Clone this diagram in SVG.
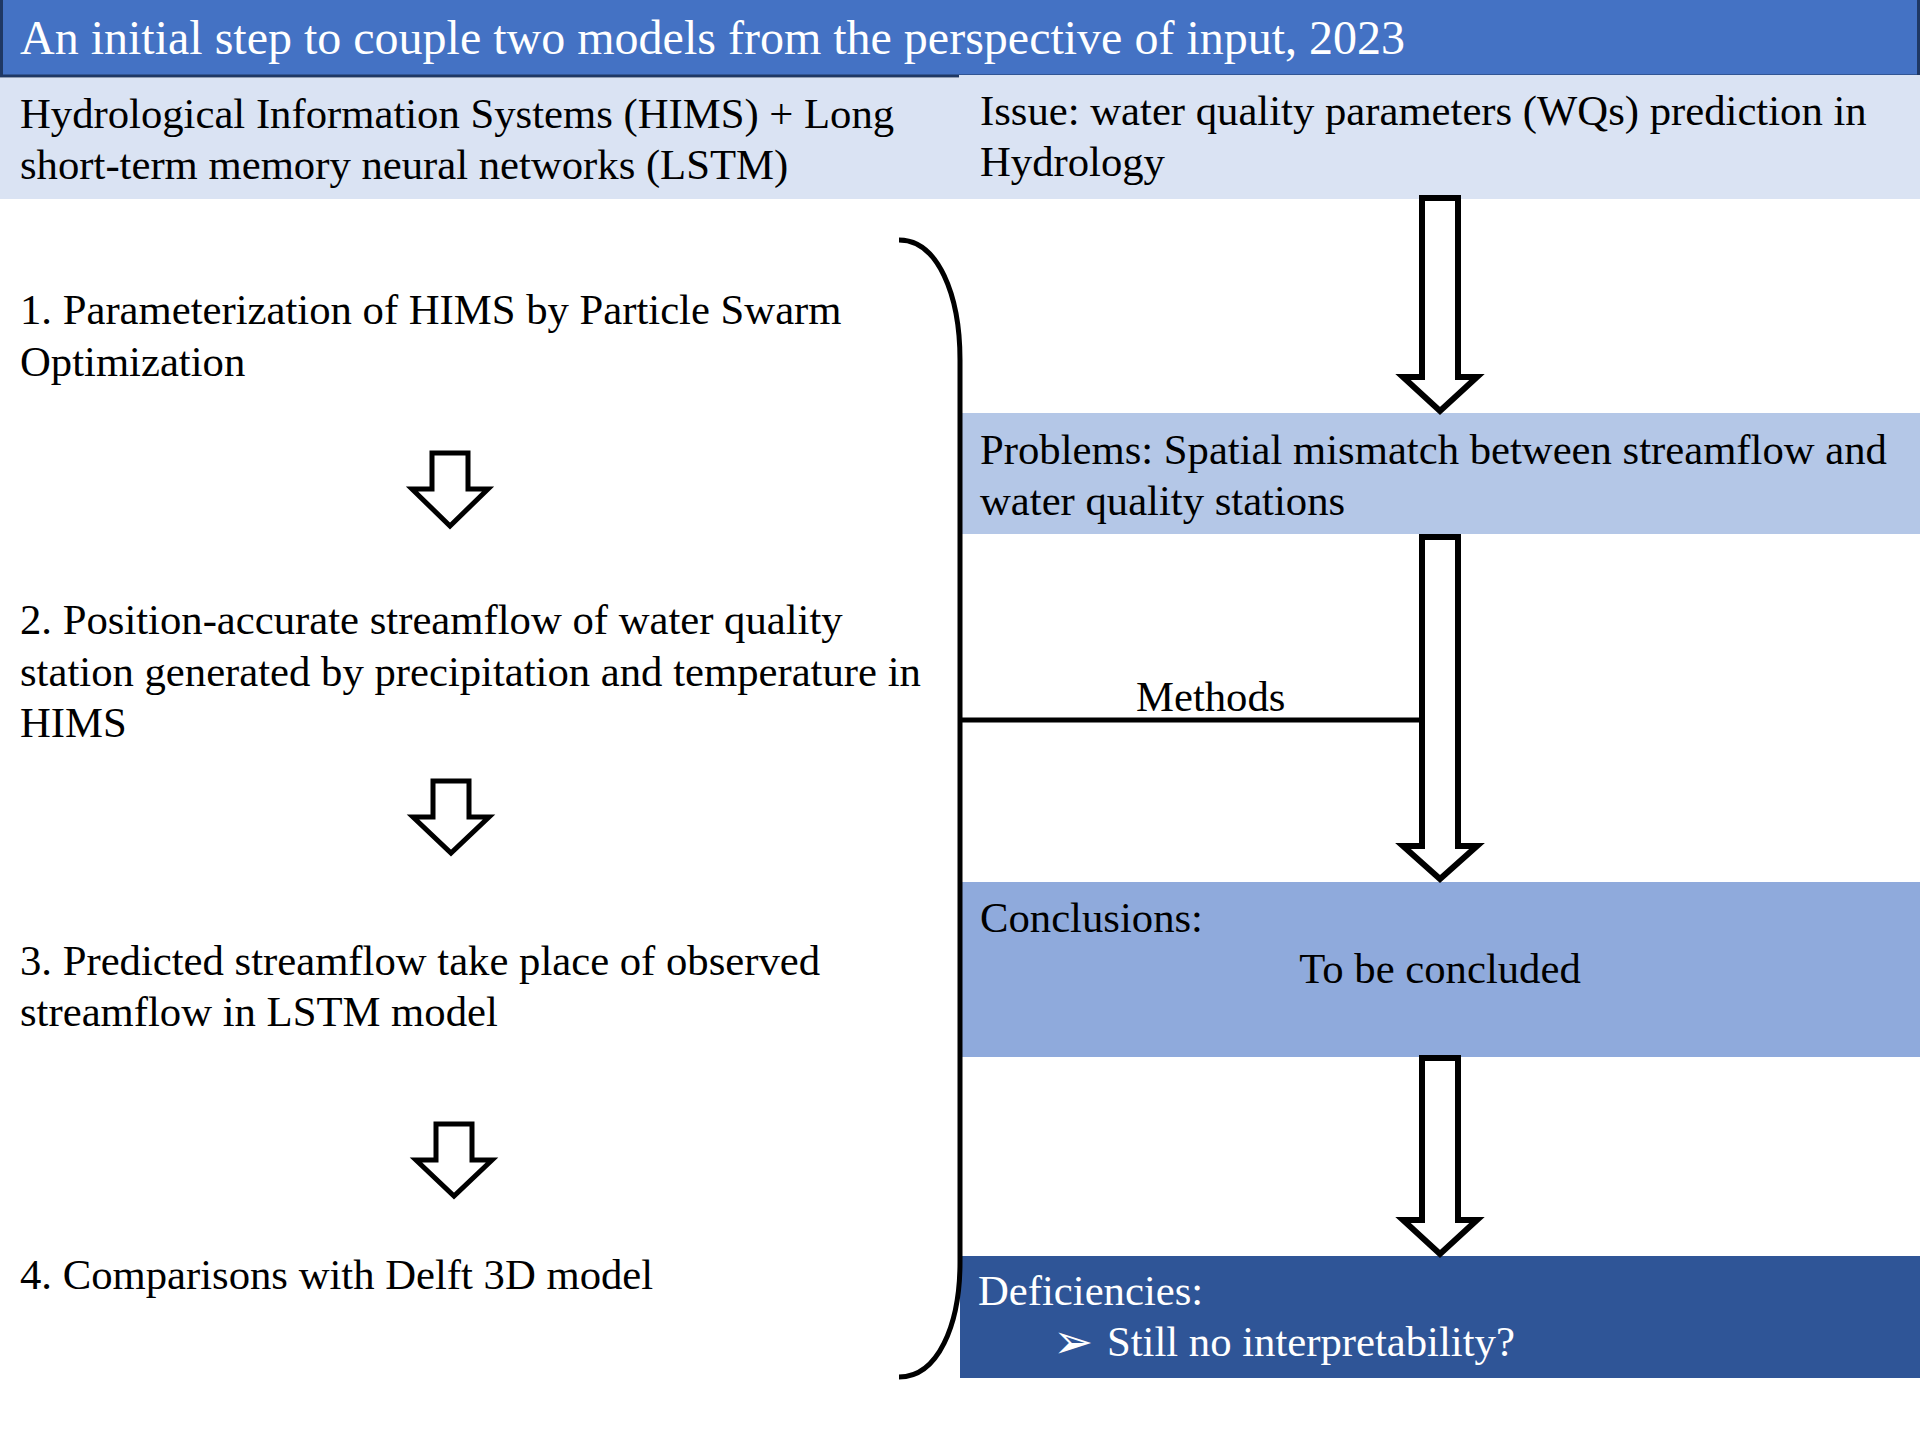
<svg xmlns="http://www.w3.org/2000/svg" width="1920" height="1440" viewBox="0 0 1920 1440">
  <style>
    .t { font-family: "Liberation Serif", "Times New Roman", serif; font-size: 42.7px; fill: #000000; }
    .w { fill: #FFFFFF; }
    .title { font-family: "Liberation Serif", "Times New Roman", serif; font-size: 48px; fill: #FFFFFF; }
    .arrow { fill: #FFFFFF; stroke: #000000; stroke-linejoin: miter; stroke-miterlimit: 10; }
    .big { stroke-width: 6; }
    .small { stroke-width: 5; }
    .line { fill: none; stroke: #000000; stroke-width: 5; }
  </style>
  <rect x="0" y="0" width="1920" height="1440" fill="#FFFFFF"/>

  <g id="header">
    <rect x="1.5" y="-2" width="1917" height="78" fill="#4472C4" stroke="#1F3864" stroke-width="3"/>
    <text class="title" x="20" y="54">An initial step to couple two models from the perspective of input, 2023</text>
  </g>

  <g id="models">
    <rect x="0" y="78" width="960" height="121" fill="#DAE3F3"/>
    <text class="t" x="20" y="128">Hydrological Information Systems (HIMS) + Long</text>
    <text class="t" x="20" y="179">short-term memory neural networks (LSTM)</text>
  </g>

  <g id="issue">
    <rect x="959" y="75" width="961" height="124" fill="#DAE3F3"/>
    <text class="t" x="980" y="125">Issue: water quality parameters (WQs) prediction in</text>
    <text class="t" x="980" y="176">Hydrology</text>
  </g>

  <g id="step1">
    <text class="t" x="20" y="324">1. Parameterization of HIMS by Particle Swarm</text>
    <text class="t" x="20" y="376">Optimization</text>
  </g>

  <g id="step2">
    <text class="t" x="20" y="634">2. Position-accurate streamflow of water quality</text>
    <text class="t" x="20" y="686">station generated by precipitation and temperature in</text>
    <text class="t" x="20" y="737">HIMS</text>
  </g>

  <g id="step3">
    <text class="t" x="20" y="975">3. Predicted streamflow take place of observed</text>
    <text class="t" x="20" y="1026">streamflow in LSTM model</text>
  </g>

  <g id="step4">
    <text class="t" x="20" y="1289">4. Comparisons with Delft 3D model</text>
  </g>

  <g id="problems">
    <rect x="961" y="413" width="959" height="121" fill="#B4C7E7"/>
    <text class="t" x="980" y="464">Problems: Spatial mismatch between streamflow and</text>
    <text class="t" x="980" y="515">water quality stations</text>
  </g>

  <g id="conclusions">
    <rect x="961" y="882" width="959" height="175" fill="#8FAADC"/>
    <text class="t" x="980" y="932">Conclusions:</text>
    <text class="t" x="1440" y="983" text-anchor="middle">To be concluded</text>
  </g>

  <g id="deficiencies">
    <rect x="960" y="1256" width="960" height="122" fill="#2F5597"/>
    <text class="t w" x="978" y="1305">Deficiencies:</text>
    <text class="t w" x="1053" y="1358"><tspan font-family="DejaVu Sans, sans-serif" font-size="48">➢</tspan></text>
    <text class="t w" x="1107" y="1356">Still no interpretability?</text>
  </g>

  <g id="connectors">
    <path class="line" d="M899 240 C938 240 960 295 960 360 L960 1262 C960 1325 938 1377 899 1377"/>
    <path class="line" d="M960 720 H1422"/>
    <text class="t" x="1136" y="711">Methods</text>
    <path class="arrow big" d="M1422 198 H1458 V377 H1477 L1440 411 L1403 377 H1422 Z"/>
    <path class="arrow big" d="M1422 537 H1458 V846 H1477 L1440 879 L1403 846 H1422 Z"/>
    <path class="arrow big" d="M1422 1058 H1458 V1220 H1477 L1440 1254 L1403 1220 H1422 Z"/>
    <path class="arrow small" d="M432 453 H468 V489 H488 L450 526 L412 489 H432 Z"/>
    <path class="arrow small" d="M433 781 H469 V817 H489 L451 853 L413 817 H433 Z"/>
    <path class="arrow small" d="M436 1124 H472 V1160 H492 L454 1196 L416 1160 H436 Z"/>
  </g>
</svg>
